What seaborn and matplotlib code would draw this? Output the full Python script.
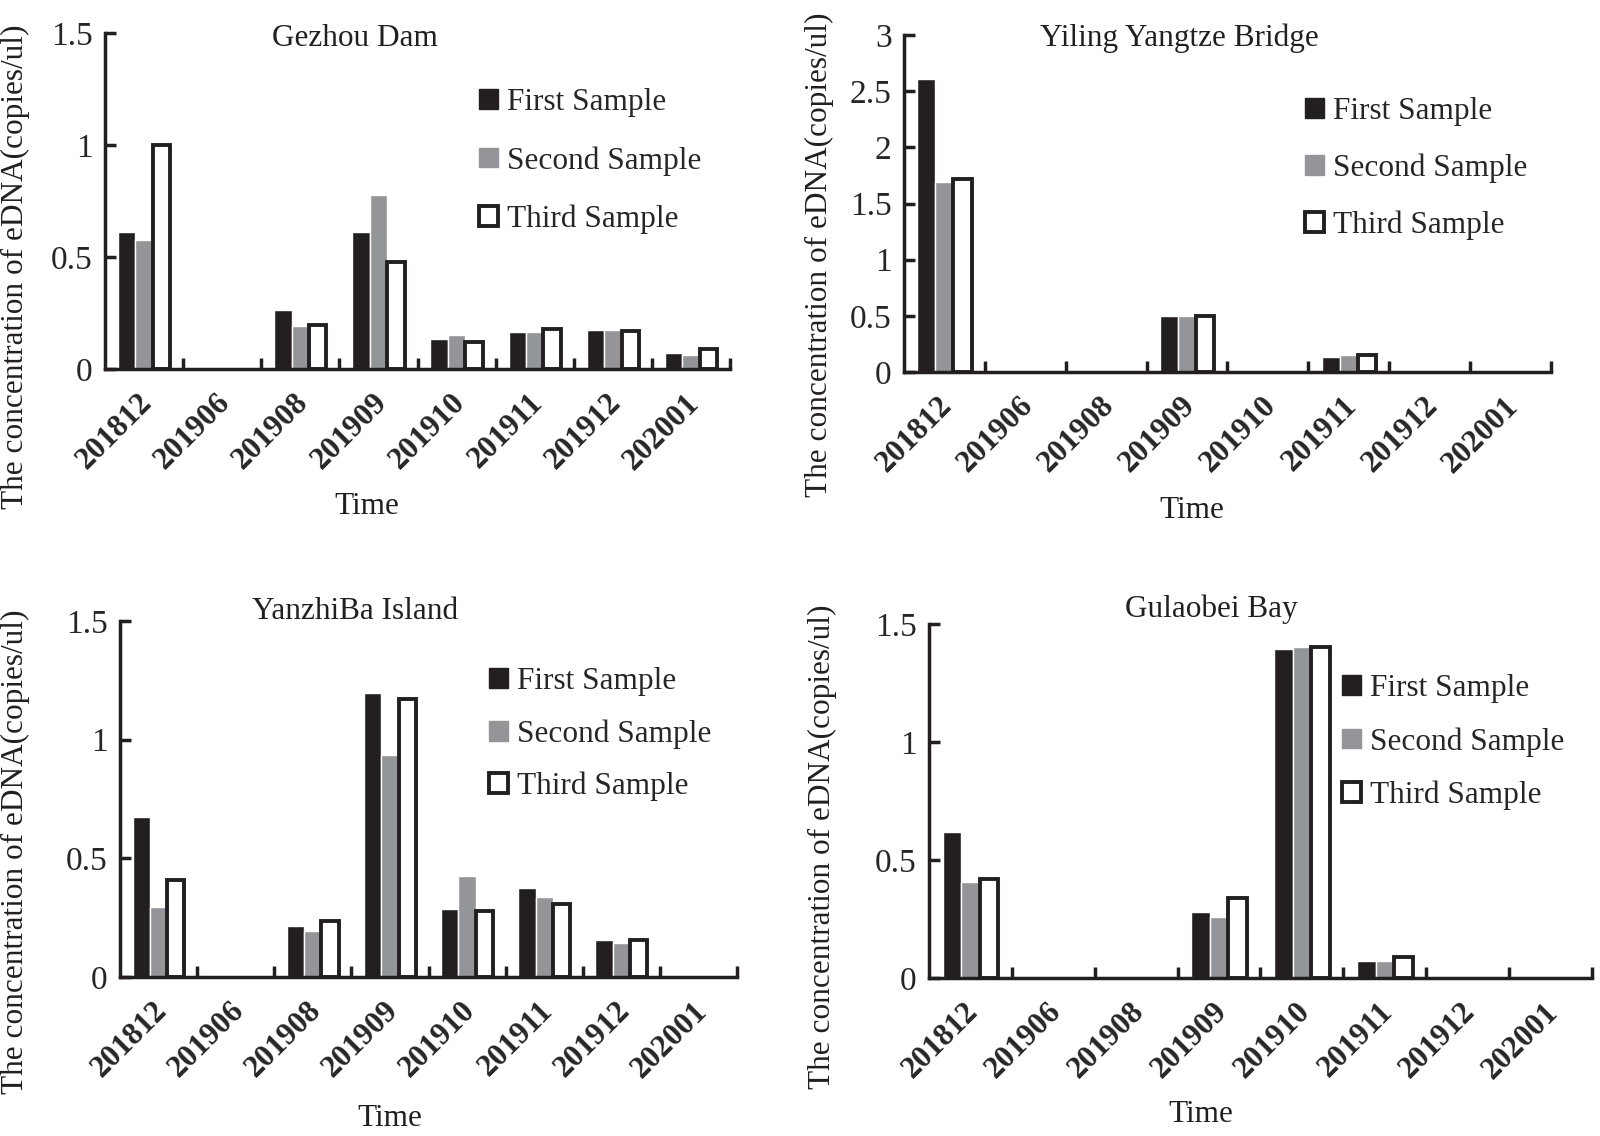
import numpy as np
import pandas as pd
import matplotlib
matplotlib.use("Agg")
import matplotlib.pyplot as plt
import seaborn as sns
from matplotlib.patches import Patch

months = ["201812", "201906", "201908", "201909", "201910", "201911", "201912", "202001"]
samples = ["First Sample", "Second Sample", "Third Sample"]

gezhou_first = [0.61, 0, 0.265, 0.61, 0.135, 0.167, 0.176, 0.073]
gezhou_second = [0.577, 0, 0.193, 0.777, 0.153, 0.167, 0.176, 0.064]
gezhou_third = [1.0, 0, 0.197, 0.479, 0.12, 0.178, 0.169, 0.088]

yiling_first = [2.61, 0, 0, 0.5, 0, 0.137, 0, 0]
yiling_second = [1.69, 0, 0, 0.5, 0, 0.147, 0, 0]
yiling_third = [1.72, 0, 0, 0.495, 0, 0.155, 0, 0]

yanzhiba_first = [0.675, 0, 0.214, 1.197, 0.286, 0.374, 0.155, 0]
yanzhiba_second = [0.295, 0, 0.193, 0.935, 0.425, 0.337, 0.142, 0]
yanzhiba_third = [0.408, 0, 0.237, 1.172, 0.28, 0.308, 0.158, 0]

gulaobei_first = [0.617, 0, 0, 0.278, 1.392, 0.074, 0, 0]
gulaobei_second = [0.405, 0, 0, 0.258, 1.401, 0.074, 0, 0]
gulaobei_third = [0.42, 0, 0, 0.338, 1.404, 0.087, 0, 0]

yticks_small = [0, 0.5, 1, 1.5]
yticks_big = [0, 0.5, 1, 1.5, 2, 2.5, 3]

colors = ["#231f20", "#939598", "#ffffff"]
ink = "#231f20"

sns.set_style("white")
plt.rcParams["font.family"] = ["Liberation Serif", "DejaVu Serif"]

fig = plt.figure(figsize=(16, 11.36), dpi=100)
W, H = 1600, 1136


def px_rect(left, top, right, bottom):
    return [left / W, 1 - bottom / H, (right - left) / W, (bottom - top) / H]


panels = [
    # title, data, yticks, axes box (px), title xy, legend xy, spacing, xlabel xy, ylabel xy
    ("Gezhou Dam", (gezhou_first, gezhou_second, gezhou_third), yticks_small,
     (105, 33, 730, 369), (355, 38), (479, 88), 0.93, (367, 507), (15, 267)),
    ("Yiling Yangtze Bridge", (yiling_first, yiling_second, yiling_third), yticks_big,
     (904, 35, 1551, 372), (1179, 38), (1305, 97), 0.88, (1192, 510), (819, 255)),
    ("YanzhiBa Island", (yanzhiba_first, yanzhiba_second, yanzhiba_third), yticks_small,
     (120, 621, 737, 977), (355, 612), (489, 667), 0.74, (390, 1119), (15, 852)),
    ("Gulaobei Bay", (gulaobei_first, gulaobei_second, gulaobei_third), yticks_small,
     (929, 624, 1592, 978), (1211, 609), (1342, 674), 0.77, (1201, 1114), (822, 847)),
]

for title, series, yticks, box, title_xy, leg_xy, spacing, xl_xy, yl_xy in panels:
    df = pd.DataFrame({
        "Time": months * 3,
        "value": list(series[0]) + list(series[1]) + list(series[2]),
        "sample": np.repeat(samples, len(months)),
    })
    ax = fig.add_axes(px_rect(*box))
    sns.barplot(data=df, x="Time", y="value", hue="sample", hue_order=samples,
                palette=colors, saturation=1, width=0.67, ax=ax, legend=False)
    for bar in ax.containers[2]:
        bar.set_edgecolor(ink)
        bar.set_linewidth(2.8)
    for cont in ax.containers:
        for bar in cont:
            if bar.get_height() == 0:
                bar.set_linewidth(0)

    ax.set_xlim(-0.5, 7.5)
    ax.set_ylim(0, yticks[-1])
    ax.set_yticks(yticks)
    ax.set_yticklabels([f"{v:g}" for v in yticks])
    # label anchors sit a little left of the group centre, as in the original
    ax.set_xticks(np.arange(len(months)) - 0.08)
    ax.set_xticklabels(months, rotation=45, ha="right", rotation_mode="anchor",
                       fontweight="bold", fontsize=22.5)
    ax.set_xticks(np.arange(0.5, len(months), 1), minor=True)
    ax.tick_params(axis="x", which="major", bottom=True, length=0, pad=14)
    ax.tick_params(axis="x", which="minor", bottom=True, direction="in", length=8,
                   width=2.5, color=ink)
    ax.tick_params(axis="y", left=True, direction="in", length=8, width=2.5, color=ink,
                   labelsize=24, pad=9)
    ax.set_xlabel("")
    ax.set_ylabel("")
    for side in ["top", "right"]:
        ax.spines[side].set_visible(False)
    for side in ["left", "bottom"]:
        ax.spines[side].set_linewidth(2.5)
        ax.spines[side].set_color(ink)

    fig.text(title_xy[0] / W, 1 - title_xy[1] / H, title, ha="center", va="center",
             fontsize=22.5, color=ink)
    fig.text(xl_xy[0] / W, 1 - xl_xy[1] / H, "Time", ha="center", va="center",
             fontsize=22.5, color=ink)
    fig.text(yl_xy[0] / W, 1 - yl_xy[1] / H, "The concentration of eDNA(copies/ul)",
             ha="center", va="center", rotation=90, fontsize=22.5, color=ink)

    handles = [
        Patch(facecolor=colors[0], edgecolor=colors[0]),
        Patch(facecolor=colors[1], edgecolor=colors[1]),
        Patch(facecolor="white", edgecolor=ink, linewidth=2.8),
    ]
    ax.legend(handles, samples, loc="upper left",
              bbox_to_anchor=(leg_xy[0] / W, 1 - leg_xy[1] / H),
              bbox_transform=fig.transFigure, frameon=False, fontsize=22.5,
              handlelength=0.6, handleheight=0.6, handletextpad=0.3,
              labelspacing=spacing, borderpad=0, borderaxespad=0)

fig.savefig("out.png", dpi=100)
